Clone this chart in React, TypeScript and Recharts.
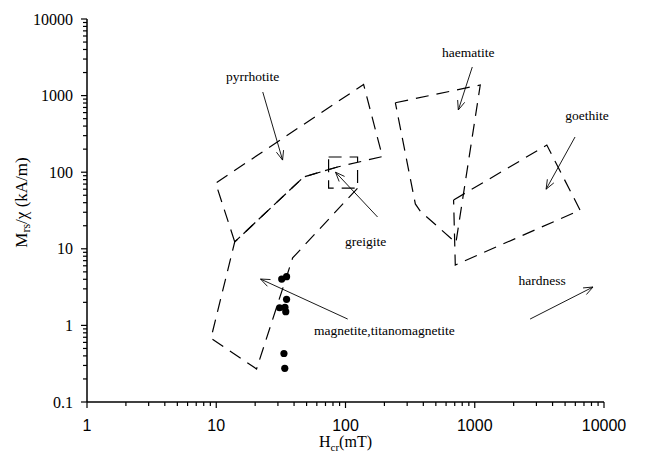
import { ScatterChart, Scatter, XAxis, YAxis, ReferenceLine } from 'recharts'

const xMajor = [1, 10, 100, 1000, 10000]
const yMajor = [0.1, 1, 10, 100, 1000, 10000]
const minorSteps = [2, 3, 4, 5, 6, 7, 8, 9]

const samples = [
  { x: 32.1, y: 4.03 },
  { x: 35, y: 4.32 },
  { x: 35, y: 2.19 },
  { x: 30.9, y: 1.7 },
  { x: 34, y: 1.72 },
  { x: 34.5, y: 1.51 },
  { x: 33.4, y: 0.43 },
  { x: 33.9, y: 0.275 }
]

const pyrrhotite = [
  { x: 13.9, y: 12.3 },
  { x: 9.9, y: 72 },
  { x: 138, y: 1400 },
  { x: 193, y: 160 },
  { x: 86.7, y: 117 },
  { x: 47.4, y: 86.5 },
  { x: 13.9, y: 12.3 }
]

const magnetite = [
  { x: 86.7, y: 117 },
  { x: 47.4, y: 86.5 },
  { x: 13.9, y: 12.3 },
  { x: 9.1, y: 0.68 },
  { x: 20.5, y: 0.27 },
  { x: 39, y: 7.6 },
  { x: 124, y: 62 }
]

const greigite = [
  { x: 74, y: 158 },
  { x: 124, y: 158 },
  { x: 124, y: 62 },
  { x: 74, y: 62 },
  { x: 74, y: 158 }
]

const haematite = [
  { x: 243, y: 807 },
  { x: 1103, y: 1375 },
  { x: 715, y: 12 },
  { x: 379, y: 31 },
  { x: 347, y: 38.5 },
  { x: 243, y: 807 }
]

const goethite = [
  { x: 686, y: 43.4 },
  { x: 3610, y: 226 },
  { x: 6530, y: 32 },
  { x: 707, y: 6.15 },
  { x: 686, y: 43.4 }
]

const labels = [
  { x: 19.1, y: 1750, name: 'pyrrhotite' },
  { x: 891, y: 3600, name: 'haematite' },
  { x: 7390, y: 558, name: 'goethite' },
  { x: 143, y: 12.3, name: 'greigite' },
  { x: 200, y: 0.87, name: 'magnetite,titanomagnetite' },
  { x: 3320, y: 3.8, name: 'hardness' }
]

// tail -> tip
const arrows = [
  [{ x: 22.9, y: 1114 }, { x: 32.6, y: 144 }],
  [{ x: 957, y: 2363 }, { x: 746, y: 649 }],
  [{ x: 5970, y: 288 }, { x: 3565, y: 60 }],
  [{ x: 177, y: 26 }, { x: 83.7, y: 100 }],
  [{ x: 104, y: 1.21 }, { x: 22, y: 4.03 }],
  [{ x: 2680, y: 1.21 }, { x: 8220, y: 3.17 }]
]

const withMinor = (majors: number[]) => {
  const out: number[] = []
  majors.forEach((m, i) => {
    out.push(m)
    if (i < majors.length - 1) minorSteps.forEach((s) => out.push(m * s))
  })
  return out
}

const xTicks = withMinor(xMajor)
const yTicks = withMinor(yMajor)

const serif = '"Liberation Serif", "Times New Roman", serif'
const sans = '"Liberation Sans", Arial, sans-serif'

const dashed = { stroke: '#000', strokeWidth: 1.2, strokeDasharray: '13 8', fill: 'none' }

function XTick({ x, y, payload }: any) {
  const major = xMajor.includes(payload.value)
  return (
    <g>
      <line x1={x} y1={y} x2={x} y2={y + (major ? 6 : 4)} stroke="#000" strokeWidth={1.2} />
      {major && (
        <text x={x} y={y + 23} textAnchor="middle" dominantBaseline="central" fontFamily={sans} fontSize={16} fill="#000">
          {payload.value}
        </text>
      )}
    </g>
  )
}

function YTick({ x, y, payload }: any) {
  const major = yMajor.includes(payload.value)
  return (
    <g>
      <line x1={x - (major ? 6 : 4)} y1={y} x2={x} y2={y} stroke="#000" strokeWidth={1.2} />
      {major && (
        <text x={x - 14} y={y} textAnchor="end" dominantBaseline="central" fontFamily={serif} fontSize={16} fill="#000">
          {payload.value}
        </text>
      )}
    </g>
  )
}

function Arrow({ x1, y1, x2, y2 }: any) {
  const a = Math.atan2(y2 - y1, x2 - x1)
  const h = 10
  const s = 0.38
  const l = [x2 - h * Math.cos(a - s), y2 - h * Math.sin(a - s)]
  const r = [x2 - h * Math.cos(a + s), y2 - h * Math.sin(a + s)]
  return (
    <g stroke="#000" strokeWidth={0.9} fill="none">
      <line x1={x1} y1={y1} x2={x2} y2={y2} />
      <polyline points={`${l[0]},${l[1]} ${x2},${y2} ${r[0]},${r[1]}`} />
    </g>
  )
}

const noDot = () => <g />

export default function App() {
  return (
    <ScatterChart width={630} height={449} margin={{ top: 11, right: 34, left: 0, bottom: 0 }}>
      <XAxis
        type="number"
        dataKey="x"
        scale="log"
        domain={[1, 10000]}
        ticks={xTicks}
        interval={0}
        tick={<XTick />}
        tickLine={false}
        tickSize={0}
        tickMargin={0}
        height={55}
        axisLine={{ stroke: '#000', strokeWidth: 1.5 }}
        label={{
          content: ({ viewBox }: any) => (
            <text x={viewBox.x + viewBox.width / 2} y={viewBox.y + 45} textAnchor="middle" fontFamily={serif} fontSize={16} fill="#000">
              <tspan>H</tspan>
              <tspan dy={4} fontSize={11}>cr</tspan>
              <tspan dy={-4}>(mT)</tspan>
            </text>
          )
        }}
      />
      <YAxis
        type="number"
        dataKey="y"
        scale="log"
        domain={[0.1, 10000]}
        ticks={yTicks}
        interval={0}
        tick={<YTick />}
        tickLine={false}
        tickSize={0}
        tickMargin={0}
        width={79}
        axisLine={{ stroke: '#000', strokeWidth: 1.5 }}
        label={{
          content: ({ viewBox }: any) => {
            const cx = viewBox.x + 13
            const cy = viewBox.y + viewBox.height / 2 - 8
            return (
              <text
                x={cx}
                y={cy}
                transform={`rotate(-90 ${cx} ${cy})`}
                textAnchor="middle"
                dominantBaseline="central"
                fontFamily={serif}
                fontSize={17}
                fill="#000"
              >
                <tspan>M</tspan>
                <tspan dy={5} fontSize={12}>rs</tspan>
                <tspan dy={-5}>/χ (kA/m)</tspan>
              </text>
            )
          }
        }}
      />
      <Scatter data={pyrrhotite} line={dashed} lineType="joint" shape={noDot} isAnimationActive={false} />
      <Scatter data={magnetite} line={dashed} lineType="joint" shape={noDot} isAnimationActive={false} />
      <Scatter data={greigite} line={dashed} lineType="joint" shape={noDot} isAnimationActive={false} />
      <Scatter data={haematite} line={dashed} lineType="joint" shape={noDot} isAnimationActive={false} />
      <Scatter data={goethite} line={dashed} lineType="joint" shape={noDot} isAnimationActive={false} />
      {arrows.map((seg, i) => (
        <ReferenceLine key={i} segment={seg} ifOverflow="visible" shape={<Arrow />} />
      ))}
      <Scatter
        data={samples}
        isAnimationActive={false}
        shape={(p: any) => <circle cx={p.cx} cy={p.cy} r={3.6} fill="#000" />}
      />
      <Scatter
        data={labels}
        isAnimationActive={false}
        shape={(p: any) => (
          <text x={p.cx} y={p.cy} textAnchor="middle" dominantBaseline="central" fontFamily={serif} fontSize={13.5} fill="#000">
            {p.payload.name}
          </text>
        )}
      />
    </ScatterChart>
  )
}
